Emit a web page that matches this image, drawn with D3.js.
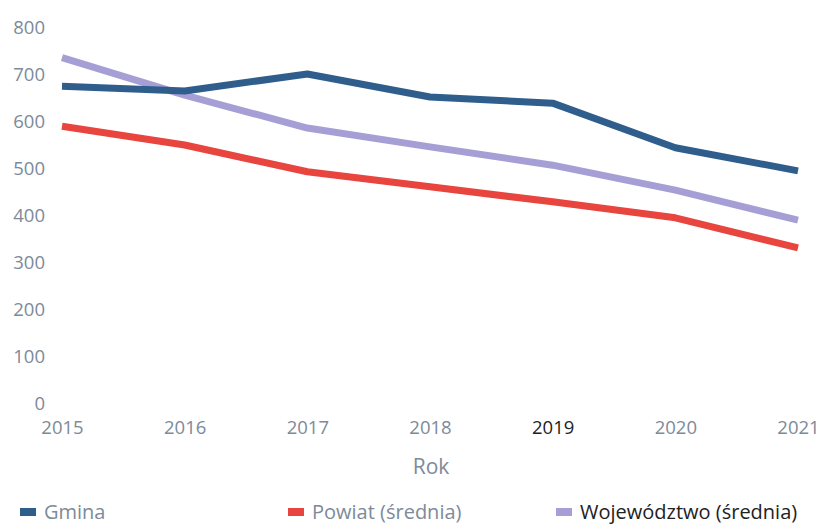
<!DOCTYPE html>
<html>
<head>
<meta charset="utf-8">
<script src="https://cdn.jsdelivr.net/npm/d3@7"></script>
<style>
  body { margin: 0; background: #fff; }
  svg text { font-family: "Open Sans", sans-serif; }
</style>
</head>
<body>
<script>
// chart data
const years = ["2015", "2016", "2017", "2018", "2019", "2020", "2021"];
const gmina = [674, 664, 700, 651, 638, 543, 494];
const powiat = [589, 549, 492, 460, 428, 394, 330];
const wojewodztwo = [735, 655, 585, 545, 506, 453, 389];
const yTicks = [0, 100, 200, 300, 400, 500, 600, 700, 800];
const seriesNames = ["Gmina", "Powiat (średnia)", "Województwo (średnia)"];

let w = 825;
let h = 524;

const svg = d3.select("body")
    .append("svg")
    .attr("width", w)
    .attr("height", h);

const xScale = d3.scalePoint()
    .domain(years)
    .range([62, 798]);

const yScale = d3.scaleLinear()
    .domain([0, 800])
    .range([403, 27]);

const axisColor = "#7d8a99";

// y axis, labels only
const yAxis = svg.append("g")
    .attr("transform", "translate(45,0)")
    .call(d3.axisLeft(yScale).tickValues(yTicks).tickSize(0).tickPadding(0));
yAxis.select(".domain").remove();
yAxis.selectAll("text")
    .attr("font-size", 18.5)
    .attr("fill", axisColor)
    .attr("dy", "0.35em")
    .style("font-family", "'Open Sans', sans-serif");

// x axis, labels only
const xAxis = svg.append("g")
    .attr("transform", "translate(0,421)")
    .call(d3.axisBottom(xScale).tickSize(0).tickPadding(0));
xAxis.select(".domain").remove();
xAxis.selectAll("text")
    .attr("font-size", 18.5)
    .attr("fill", function (d) { return d === "2019" ? "#222" : axisColor; })
    .attr("dy", "0.71em")
    .style("font-family", "'Open Sans', sans-serif");

svg.append("text")
    .attr("text-anchor", "middle")
    .attr("x", 431)
    .attr("y", 474)
    .attr("font-size", 21)
    .attr("fill", axisColor)
    .text("Rok");

// lines
const colors = ["#2f5d8c", "#e8453f", "#a69fd6"];
const allSeries = [gmina, powiat, wojewodztwo];

const line = d3.line()
    .x(function (d, i) { return xScale(years[i]); })
    .y(function (d) { return yScale(d); });

[2, 1, 0].forEach(function (k) {
    svg.append("path")
        .datum(allSeries[k])
        .attr("d", line)
        .attr("fill", "none")
        .attr("stroke", colors[k])
        .attr("stroke-width", 7)
        .attr("stroke-linejoin", "round")
        .attr("stroke-linecap", "butt");
});

// legend
const legendX = [20, 288, 556];
const legend = svg.selectAll(".legend")
    .data(seriesNames)
    .enter()
    .append("g")
    .attr("class", "legend")
    .attr("transform", function (d, i) { return "translate(" + legendX[i] + ",512)"; });

legend.append("rect")
    .attr("x", 0)
    .attr("y", -4)
    .attr("width", 16)
    .attr("height", 8)
    .attr("fill", function (d, i) { return colors[i]; });

legend.append("text")
    .attr("x", 24)
    .attr("dy", "0.35em")
    .attr("font-size", 20)
    .attr("fill", function (d, i) { return i === 2 ? "#222" : axisColor; })
    .text(function (d) { return d; });
</script>
</body>
</html>
